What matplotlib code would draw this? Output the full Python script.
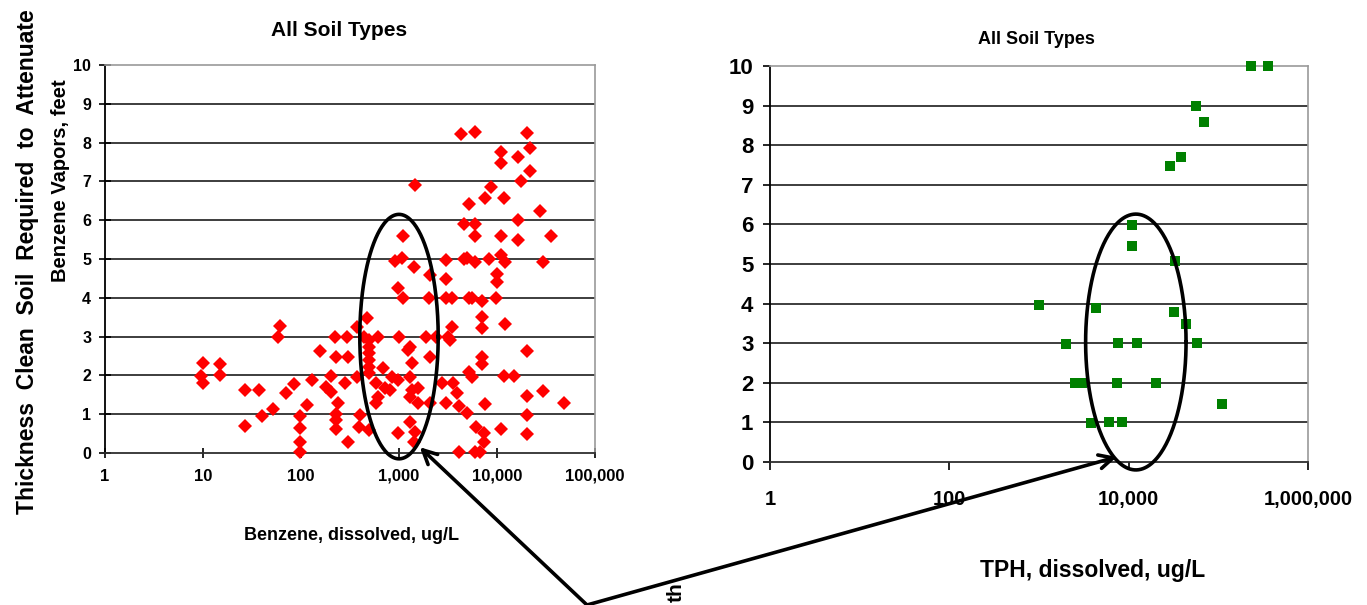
import numpy as np
import matplotlib
matplotlib.use("Agg")
import matplotlib.pyplot as plt

# ---- data ----
benzene_x = [10, 9.5, 10, 15, 15, 27, 37, 27, 40, 52,
             61, 58, 70, 84, 115, 98, 98, 98, 98, 131,
             158, 224, 229, 204, 178, 204, 240, 229, 229, 229,
             295, 302, 282, 302,
             910, 1070, 1410, 980, 1100, 2040, 2090, 3020, 3020, 3020,
             3470, 4900, 6030, 5130, 468, 372, 437, 617, 500, 500,
             500, 500, 500, 500, 1000, 1290, 1230, 1350, 1900, 2400,
             3160, 2090, 3470, 372, 692, 851, 977, 1290, 589, 724,
             813, 617, 589, 1350, 1580, 1290, 1580, 2090, 2750, 3550,
             3020, 3890, 5130, 5500, 4900, 6170, 398, 389, 500, 1290,
             1450, 977, 1410, 4070, 6030,
             4270, 6030, 1450, 5130, 4570, 6030, 6030, 1100,
             20400, 21900, 11000, 11000, 16200, 21900, 17400, 8710, 7590, 11700,
             27500, 16200, 11000, 16200, 35500, 8300, 11000, 12000, 29500, 10000,
             10000, 5500, 7080, 9770, 7080, 7080, 12000, 3300, 20400, 7080,
             7080, 11700, 14800, 29500, 20400, 47900, 4070, 7590, 20400, 11000,
             20400, 7410, 7410, 6760, 4570]
benzene_y = [2.33, 1.98, 1.80, 2.29, 2.01, 1.62, 1.62, 0.70, 0.95, 1.13,
             3.27, 2.98, 1.54, 1.77, 1.25, 0.96, 0.64, 0.29, 0.02, 1.88,
             2.63, 2.99, 2.47, 1.98, 1.71, 1.58, 1.28, 1.00, 0.85, 0.61,
             3.00, 2.47, 1.80, 0.29,
             4.96, 5.02, 4.79, 4.24, 3.99, 3.99, 4.59, 4.97, 4.48, 3.99,
             3.99, 5.02, 4.93, 3.99, 3.47, 3.26, 2.98, 2.98, 2.91, 2.74,
             2.57, 2.40, 2.22, 2.05, 2.98, 2.74, 2.65, 2.31, 2.98, 2.98,
             2.98, 2.48, 3.26, 1.97, 2.18, 1.97, 1.88, 1.97, 1.80, 1.67,
             1.62, 1.45, 1.28, 1.62, 1.67, 1.45, 1.28, 1.28, 1.80, 1.80,
             1.28, 1.54, 2.10, 1.97, 1.02, 0.68, 0.98, 0.68, 0.59, 0.81,
             0.55, 0.51, 0.29, 0.03, 0.03,
             8.21, 8.28, 6.91, 6.42, 5.90, 5.90, 5.58, 5.58,
             8.24, 7.87, 7.75, 7.48, 7.62, 7.28, 7.02, 6.86, 6.57, 6.57,
             6.23, 6.01, 5.58, 5.49, 5.58, 5.01, 5.10, 4.92, 4.92, 4.61,
             4.40, 3.99, 3.93, 4.00, 3.50, 3.23, 3.32, 2.91, 2.64, 2.47,
             2.29, 1.99, 1.99, 1.61, 1.47, 1.28, 1.21, 1.26, 0.98, 0.61,
             0.48, 0.52, 0.28, 0.02, 5.00]

tph_x = [2.3e5, 3.6e5, 5.6e4, 6.9e4, 3.8e4, 2.9e4, 1.1e4, 1.1e4, 3.3e4, 1.0e3,
         4.3e3, 3.2e4, 4.4e4, 2.0e3, 7.6e3, 1.25e4, 5.8e4, 2.5e3, 3.0e3, 7.4e3,
         2.0e4, 1.1e5, 3.8e3, 6.0e3, 8.5e3]
tph_y = [10, 10, 9.0, 8.58, 7.69, 7.48, 5.98, 5.45, 5.07, 3.96,
         3.88, 3.80, 3.48, 2.97, 3, 3, 3, 2, 2, 2,
         2, 1.46, 0.99, 1, 1]

left_xticks = [1, 10, 100, 1000, 10000, 100000]
left_xticklabels = ["1", "10", "100", "1,000", "10,000", "100,000"]
right_xticks = [1, 100, 10000, 1000000]
right_xticklabels = ["1", "100", "10,000", "1,000,000"]
yticks = list(range(0, 11))

plt.rcParams['font.family'] = ['Liberation Sans', 'DejaVu Sans']

W, H = 1367, 605
fig = plt.figure(figsize=(W / 100, H / 100), dpi=100)

def px_axes(x0, x1, y0, y1):
    return fig.add_axes([x0 / W, 1 - y1 / H, (x1 - x0) / W, (y1 - y0) / H])

ax1 = px_axes(105, 595, 65, 453)
ax2 = px_axes(770, 1308, 66, 462)

def style(ax, xticks, xlabels):
    ax.set_xscale('log')
    ax.set_xlim(xticks[0], xticks[-1])
    ax.set_ylim(0, 10)
    ax.set_xticks(xticks)
    ax.set_xticklabels(xlabels)
    ax.xaxis.set_minor_locator(matplotlib.ticker.NullLocator())
    ax.set_yticks(yticks)
    for y in yticks[1:-1]:
        ax.axhline(y, color='#2e2e2e', lw=1.3, zorder=1)
    ax.spines['left'].set_color('black')
    ax.spines['left'].set_linewidth(1.3)
    ax.spines['bottom'].set_color('#2e2e2e')
    ax.spines['bottom'].set_linewidth(1.3)
    for s in ('top', 'right'):
        ax.spines[s].set_color('#9a9a9a')
        ax.spines[s].set_linewidth(1.2)

style(ax1, left_xticks, left_xticklabels)
style(ax2, right_xticks, right_xticklabels)

ax1.plot(benzene_x, benzene_y, 'D', color='#ff0000', ms=7.5, mew=0, zorder=3, clip_on=False)
ax2.plot(tph_x, tph_y, 's', color='#008000', ms=7.5, mew=0, zorder=3, clip_on=False)

ax1.tick_params(axis='x', direction='inout', length=7, width=1.2, pad=8, labelsize=12)
ax1.tick_params(axis='y', direction='inout', length=8, width=1.2, pad=6, labelsize=11.5)
for lab in ax1.get_xticklabels() + ax1.get_yticklabels():
    lab.set_fontweight('bold')

ax2.tick_params(axis='x', direction='out', length=6, width=1.2, pad=14, labelsize=14.5)
ax2.tick_params(axis='y', direction='out', length=5, width=1.2, pad=7, labelsize=16)
for lab in ax2.get_xticklabels() + ax2.get_yticklabels():
    lab.set_fontweight('bold')

# titles and labels
fig.text(339 / W, 1 - 30 / H, "All Soil Types", ha='center', va='center',
         fontsize=15, fontweight='bold')
fig.text(1036 / W, 1 - 40 / H, "All Soil Types", ha='center', va='center',
         fontsize=13, fontweight='bold')
fig.text(352 / W, 1 - 535 / H, "Benzene, dissolved, ug/L", ha='center', va='center',
         fontsize=13, fontweight='bold')
fig.text(1093 / W, 1 - 570 / H, "TPH, dissolved, ug/L", ha='center', va='center',
         fontsize=16.5, fontweight='bold')
gap = " " * 2
fig.text(28 / W, 1 - 262 / H,
         gap.join(["Thickness", "Clean", "Soil", "Required", "to", "Attenuate"]),
         rotation=90, ha='center', va='center', fontsize=16.5, fontweight='bold')
fig.text(60 / W, 1 - 181 / H, "Benzene Vapors, feet",
         rotation=90, ha='center', va='center', fontsize=14.5, fontweight='bold')
fig.text(676 / W, 3 / H, "th", rotation=90, ha='center', va='bottom',
         fontsize=15, fontweight='bold')

# ellipses drawn in data space (log x)
t = np.linspace(0, 2 * np.pi, 300)
ax1.plot(10 ** (3.0 + 0.40 * np.cos(t)), 3.0 + 3.15 * np.sin(t),
         color='black', lw=2.6, clip_on=False, zorder=4)
ax2.plot(10 ** (4.08 + 0.56 * np.cos(t)), 3.03 + 3.23 * np.sin(t),
         color='black', lw=2.6, clip_on=False, zorder=4)

# arrows from a common point at the bottom
tail = (587 / W, 0.0)
arrow = dict(arrowstyle='->', lw=2.6, color='black', shrinkA=0, shrinkB=0,
             mutation_scale=25)
ax1.annotate("", xy=(1630, 0.15), xycoords='data', xytext=tail,
             textcoords='figure fraction', arrowprops=arrow, annotation_clip=False)
ax2.annotate("", xy=(7400, 0.13), xycoords='data', xytext=tail,
             textcoords='figure fraction', arrowprops=arrow, annotation_clip=False)

fig.savefig("out.png", dpi=100)
